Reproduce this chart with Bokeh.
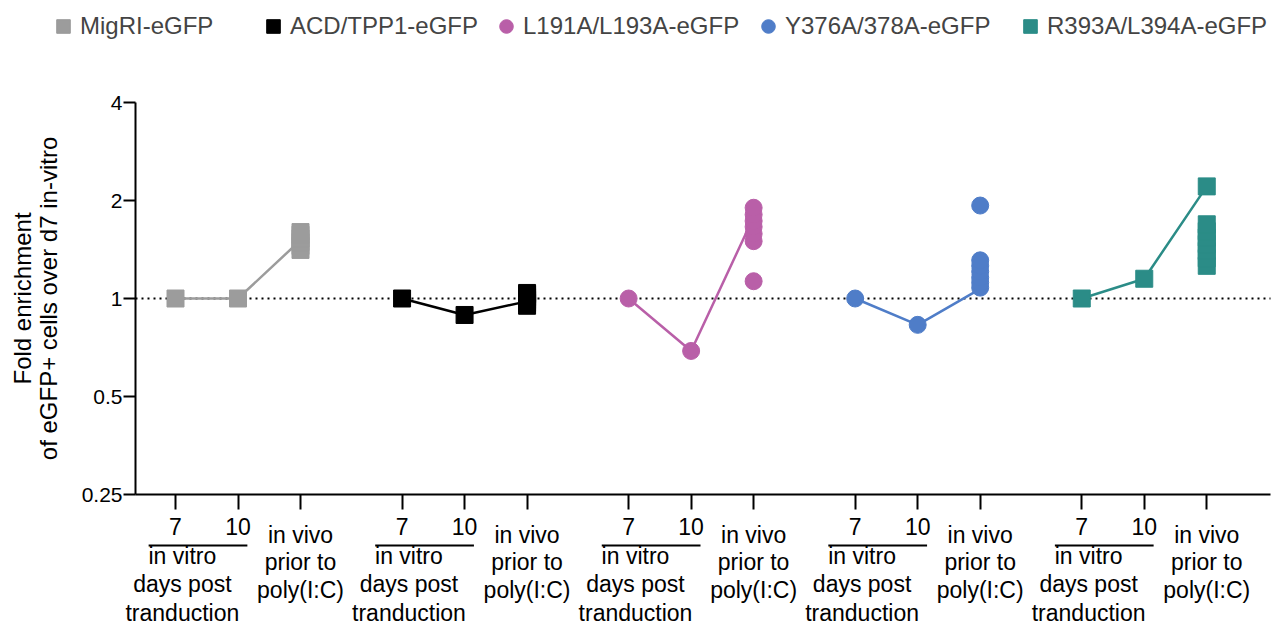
from bokeh.plotting import figure
from bokeh.models import (Range1d, FixedTicker, CustomJSTickFormatter, Label,
                          Arrow, Legend, LegendItem, LinearAxis)
from bokeh.embed import file_html
from bokeh.resources import INLINE

# ---------------- data ----------------
groups = ["MigRI-eGFP", "ACD/TPP1-eGFP", "L191A/L193A-eGFP", "Y376A/378A-eGFP", "R393A/L394A-eGFP"]
timepoints = ["7", "10", "in vivo\nprior to\npoly(I:C)"]
group_caption = "in vitro\ndays post\ntranduction"
yticks = [0.25, 0.5, 1, 2, 4]

# values connected by the line: day 7, day 10, in vivo
migri_line = [1.0, 1.0, 1.51]
acd_line = [1.0, 0.89, 0.98]
l191_line = [1.0, 0.69, 1.78]
y376_line = [1.0, 0.83, 1.07]
r393_line = [1.0, 1.15, 2.21]

# individual in vivo values
migri_vivo = [1.41, 1.45, 1.49, 1.53, 1.57, 1.60]
acd_vivo = [0.95, 0.97, 0.99, 1.01, 1.03, 1.04]
l191_vivo = [1.13, 1.50, 1.58, 1.66, 1.73, 1.81, 1.90]
y376_vivo = [1.08, 1.12, 1.16, 1.21, 1.26, 1.31, 1.93]
r393_vivo = [1.26, 1.33, 1.40, 1.47, 1.54, 1.61, 1.69, 2.21]

line_values = [migri_line, acd_line, l191_line, y376_line, r393_line]
vivo_values = [migri_vivo, acd_vivo, l191_vivo, y376_vivo, r393_vivo]

# ---------------- styles / layout ----------------
colors = ["#9c9c9c", "#000000", "#b95fa8", "#4f7dc8", "#2b8c87"]
markers = ["square", "square", "circle", "circle", "square"]
legend_x = [46, 256, 489, 751, 1013]
legend_y = 584
GROUP_STEP = 3.625
X_LEFT, X_RIGHT = -0.64, 17.52          # extent of the drawn x axis
FONT = "Liberation Sans"

p = figure(width=1280, height=627, y_axis_type="log",
           x_range=Range1d(-2.8, 17.68),
           y_range=Range1d(2 ** (-329 / 98), 2 ** (298 / 98)),
           output_backend="svg", toolbar_location=None,
           min_border_left=0, min_border_top=0, min_border_bottom=0, min_border_right=0)
p.grid.visible = False
p.outline_line_color = None
p.background_fill_color = "white"

# dotted reference line at 1
p.segment(x0=[X_LEFT], y0=[1], x1=[X_RIGHT], y1=[1], line_color="black",
          line_width=2, line_dash="2 4")

ticks, labels = [], {}
vivo_ticks, vivo_labels = [], {}
for g in range(len(groups)):
    xs = [g * GROUP_STEP + j for j in range(len(timepoints))]
    for j, x in enumerate(xs):
        ticks.append(x)
        labels[x] = timepoints[j] if j < 2 else ""
    vivo_ticks.append(xs[2])
    vivo_labels[xs[2]] = timepoints[2]

    p.line(xs, line_values[g], line_color=colors[g], line_width=2.5)
    p.scatter(xs[:2], line_values[g][:2], marker=markers[g], size=17,
              fill_color=colors[g], line_color=colors[g])
    r = p.scatter([xs[2]] * len(vivo_values[g]), vivo_values[g], marker=markers[g], size=17,
                  fill_color=colors[g], line_color=colors[g])

    # group caption under day 7 / day 10
    p.add_layout(Label(x=g * GROUP_STEP + 0.11, y=85, x_units="data", y_units="screen",
                       text=group_caption, text_align="center", text_baseline="top",
                       text_font=FONT, text_font_size="23px", text_color="black",
                       text_line_height=1.1))
    yline = 0.25 * 2 ** (-51 / 98)
    p.add_layout(Arrow(end=None, x_start=g * GROUP_STEP - 0.43, x_end=g * GROUP_STEP + 1.15,
                       y_start=yline, y_end=yline, line_color="black", line_width=2))

    lg = Legend(items=[LegendItem(label=groups[g], renderers=[r])],
                location=(legend_x[g], legend_y), orientation="horizontal",
                padding=0, margin=0, border_line_color=None, background_fill_alpha=0,
                glyph_width=34, glyph_height=34, label_standoff=0,
                label_text_font=FONT, label_text_font_size="24px")
    p.add_layout(lg)

# x axis (day ticks)
xa = p.xaxis[0]
xa.fixed_location = 0.25
xa.bounds = (X_LEFT, X_RIGHT)
xa.ticker = FixedTicker(ticks=ticks)
xa.major_label_overrides = labels
xa.major_tick_out = 15
xa.major_tick_in = 0
xa.minor_tick_line_color = None
xa.axis_line_width = 2
xa.major_tick_line_width = 2
xa.major_label_standoff = 8
xa.major_label_text_font = FONT
xa.major_label_text_font_size = "23px"
xa.major_label_text_color = "black"
xa.axis_line_color = "black"
xa.major_tick_line_color = "black"

# x axis (in vivo captions)
xb = LinearAxis(fixed_location=0.25, ticker=FixedTicker(ticks=vivo_ticks),
                major_label_overrides=vivo_labels,
                axis_line_color=None, major_tick_line_color=None, minor_tick_line_color=None,
                major_tick_out=0, major_tick_in=0, major_label_standoff=27,
                major_label_text_font=FONT, major_label_text_font_size="23px",
                major_label_text_color="black", major_label_text_line_height=1.07)
p.add_layout(xb, "below")

# y axis
ya = p.yaxis[0]
ya.fixed_location = X_LEFT
ya.bounds = (0.25, 4)
ya.ticker = FixedTicker(ticks=yticks)
ya.formatter = CustomJSTickFormatter(code="return String(tick)")
ya.major_tick_out = 12
ya.major_tick_in = 0
ya.minor_tick_line_color = None
ya.axis_line_width = 2
ya.major_tick_line_width = 2
ya.major_label_standoff = 1
ya.major_label_text_font = FONT
ya.major_label_text_font_size = "21px"
ya.major_label_text_color = "black"
ya.axis_line_color = "black"
ya.major_tick_line_color = "black"
ya.axis_label = "Fold enrichment\nof eGFP+ cells over d7 in-vitro"
ya.axis_label_text_font = FONT
ya.axis_label_text_font_size = "24px"
ya.axis_label_text_font_style = "normal"
ya.axis_label_text_color = "black"
ya.axis_label_text_line_height = 0.95
ya.axis_label_standoff = 17

open("out.html", "w").write(file_html(p, INLINE))
